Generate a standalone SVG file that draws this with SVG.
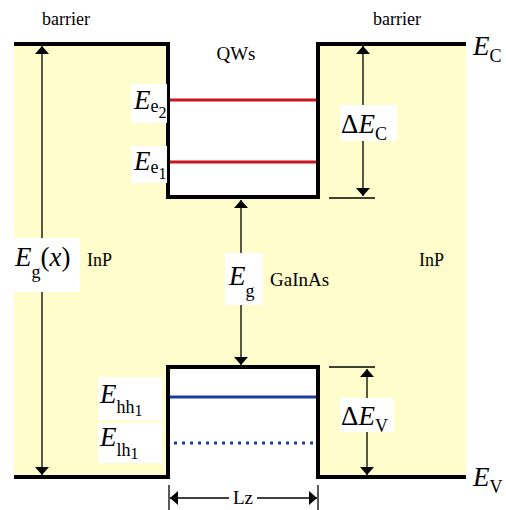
<svg xmlns="http://www.w3.org/2000/svg" width="506" height="510" viewBox="0 0 506 510">
<defs>
<style>
.band{fill:none;stroke:#000;stroke-width:4;stroke-linejoin:miter}
.dim{stroke:#000;stroke-width:1.3;fill:none}
.t{fill:#000}
.big{font-size:27px;font-style:italic}
.sub{font-size:18px;font-style:normal}
.ssub{font-size:16px;font-style:normal}
.up{font-style:normal}
.sm{font-size:18px}
.box{fill:#fff}
</style>
<marker id="ah" viewBox="0 0 10 10" refX="10" refY="5" markerWidth="8" markerHeight="14" markerUnits="userSpaceOnUse" orient="auto-start-reverse" preserveAspectRatio="none">
<path d="M0,0 L10,5 L0,10 Z" fill="#000"/>
</marker>
</defs>
<rect width="506" height="510" fill="#fff"/>
<g id="background">
<path d="M14,44 H168 V197 H318 V44 H466 V477 H318 V367 H168 V477 H14 Z" fill="#FFFDCB"/>
</g>
<g id="bands">
<path class="band" d="M14,44 H168 V197 H318 V44 H466"/>
<path class="band" d="M14,477 H168 V367 H318 V477 H466"/>
</g>
<g id="levels">
<line x1="170" y1="100" x2="316" y2="100" stroke="#c8141e" stroke-width="3"/>
<line x1="170" y1="162" x2="316" y2="162" stroke="#c8141e" stroke-width="3"/>
<line x1="170" y1="397" x2="316" y2="397" stroke="#1d3c9a" stroke-width="3"/>
<line x1="174" y1="443" x2="316" y2="443" stroke="#1d3c9a" stroke-width="3" stroke-dasharray="3,5"/>
</g>
<g id="connectors">
<line class="dim" x1="42" y1="46" x2="42" y2="475" marker-start="url(#ah)" marker-end="url(#ah)"/>
<line class="dim" x1="363" y1="46" x2="363" y2="196" marker-start="url(#ah)" marker-end="url(#ah)"/>
<line class="dim" x1="329" y1="198" x2="375" y2="198"/>
<line class="dim" x1="241" y1="200" x2="241" y2="365" marker-start="url(#ah)" marker-end="url(#ah)"/>
<line class="dim" x1="367" y1="369" x2="367" y2="475" marker-start="url(#ah)" marker-end="url(#ah)"/>
<line class="dim" x1="329" y1="367" x2="375" y2="367"/>
<line class="dim" x1="169" y1="485" x2="169" y2="510"/>
<line class="dim" x1="318" y1="485" x2="318" y2="510"/>
<line class="dim" x1="170" y1="498" x2="317" y2="498" marker-start="url(#ah)" marker-end="url(#ah)"/>
</g>
<g id="labels" font-family="'Liberation Serif', 'Times New Roman', serif">
<text class="t sm" x="66" y="25" text-anchor="middle">barrier</text>
<text class="t sm" x="397" y="25" text-anchor="middle">barrier</text>
<text class="t" x="236" y="60" font-size="19" text-anchor="middle">QWs</text>
<text class="t big" x="473" y="55">E<tspan class="sub" dy="7">C</tspan></text>
<text class="t big" x="473" y="486">E<tspan class="sub" dy="7">V</tspan></text>
<rect class="box" x="131" y="84" width="36" height="39"/>
<text class="t big" x="134" y="109">E<tspan class="sub" dy="3">e</tspan><tspan class="ssub" dy="6">2</tspan></text>
<rect class="box" x="131" y="146" width="36" height="37"/>
<text class="t big" x="134" y="170">E<tspan class="sub" dy="3">e</tspan><tspan class="ssub" dy="6">1</tspan></text>
<rect class="box" x="340" y="105" width="57" height="36"/>
<text class="t big" x="341" y="133"><tspan class="up">Δ</tspan>E<tspan class="sub" dy="7">C</tspan></text>
<rect class="box" x="340" y="398" width="54" height="34"/>
<text class="t big" x="341" y="425"><tspan class="up">Δ</tspan>E<tspan class="sub" dy="7">V</tspan></text>
<rect class="box" x="13" y="238" width="67" height="54"/>
<text class="t big" x="15" y="266">E<tspan class="sub" dy="12">g</tspan><tspan class="up" dy="-12">(</tspan>x<tspan class="up">)</tspan></text>
<text class="t sm" x="87" y="266">InP</text>
<text class="t sm" x="419" y="266">InP</text>
<rect class="box" x="225" y="253" width="38" height="52"/>
<text class="t big" x="229" y="285">E<tspan class="sub" dy="12">g</tspan></text>
<text class="t" x="270" y="286" font-size="19">GaInAs</text>
<rect class="box" x="229" y="489" width="28" height="18"/>
<text class="t" x="243" y="504" font-size="19" text-anchor="middle">Lz</text>
<rect class="box" x="98" y="377" width="64" height="43"/>
<text class="t big" x="100" y="403">E<tspan class="sub" dy="10">hh</tspan><tspan class="ssub" dy="3">1</tspan></text>
<rect class="box" x="98" y="423" width="64" height="40"/>
<text class="t big" x="100" y="446">E<tspan class="sub" dy="10">lh</tspan><tspan class="ssub" dy="3">1</tspan></text>
</g>
</svg>
